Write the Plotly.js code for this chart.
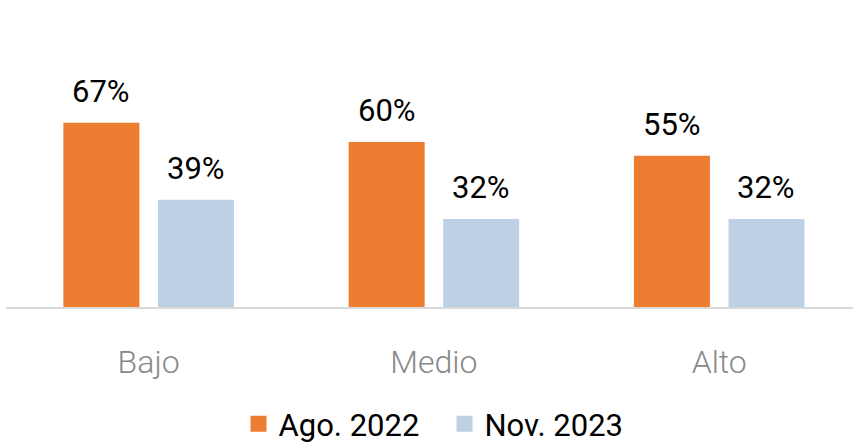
<!DOCTYPE html>
<html>
<head>
<meta charset="utf-8">
<script src="https://cdn.plot.ly/plotly-3.0.1.min.js"></script>
<style>html,body{margin:0;padding:0;background:#fff;}#chart{width:853px;height:444px;}</style>
</head>
<body>
<div id="chart"></div>
<script>
const categories = ["Bajo", "Medio", "Alto"];
const seriesNames = ["Ago. 2022", "Nov. 2023"];
const ago2022 = [67, 60, 55];
const nov2023 = [39, 32, 32];

const colors = ["#ED7D31", "#BDD0E4"];
const barWidth = 0.2664;
const offsets = [-0.2989, 0.0325];
const shifts = [-47.25, 47.25];
const xIdx = categories.map((c, i) => i);

const series = [ago2022, nov2023];
const traces = series.map((vals, s) => ({
  type: "bar",
  x: xIdx,
  y: vals,
  name: seriesNames[s],
  width: barWidth,
  offset: offsets[s],
  marker: {color: colors[s]},
  showlegend: false,
  hoverinfo: "skip"
}));
// legend entries with larger square symbols
series.forEach((vals, s) => {
  traces.push({
    type: "scatter", mode: "markers",
    x: [null], y: [null],
    name: seriesNames[s],
    marker: {symbol: "square", size: 18, color: colors[s]},
    showlegend: true, hoverinfo: "skip"
  });
});

const annotations = [];
series.forEach((vals, s) => {
  vals.forEach((v, i) => {
    annotations.push({
      x: i, y: v, xref: "x", yref: "y",
      text: v + "%", showarrow: false,
      xanchor: "center", yanchor: "bottom",
      xshift: shifts[s], yshift: 11,
      font: {family: "Roboto", size: 31, color: "#000"}
    });
  });
});

const layout = {
  width: 853, height: 444,
  margin: {l: 6, r: 0, t: 0, b: 137, autoexpand: false},
  paper_bgcolor: "#fff", plot_bgcolor: "#fff",
  barmode: "overlay",
  showlegend: true,
  legend: {
    orientation: "h", x: 0.2745, xanchor: "left",
    yref: "container", y: 0.045, yanchor: "middle",
    font: {family: "Roboto", size: 31, color: "#000"},
    itemwidth: 30, tracegroupgap: 0, entrywidth: 161
  },
  xaxis: {
    range: [-0.5, 2.469],
    tickvals: xIdx, ticktext: categories,
    showgrid: false, zeroline: false,
    showline: true, linecolor: "#D9D9D9", linewidth: 1.5,
    ticks: "", ticklabelstandoff: 26,
    tickfont: {family: "Roboto", size: 32, color: "#898989", weight: 300},
    fixedrange: true
  },
  yaxis: {
    range: [0, 111.6], visible: false, showgrid: false, zeroline: false,
    fixedrange: true
  },
  annotations: annotations,
  font: {family: "Roboto"}
};

Plotly.newPlot("chart", traces, layout, {displayModeBar: false, staticPlot: true});
</script>
</body>
</html>
